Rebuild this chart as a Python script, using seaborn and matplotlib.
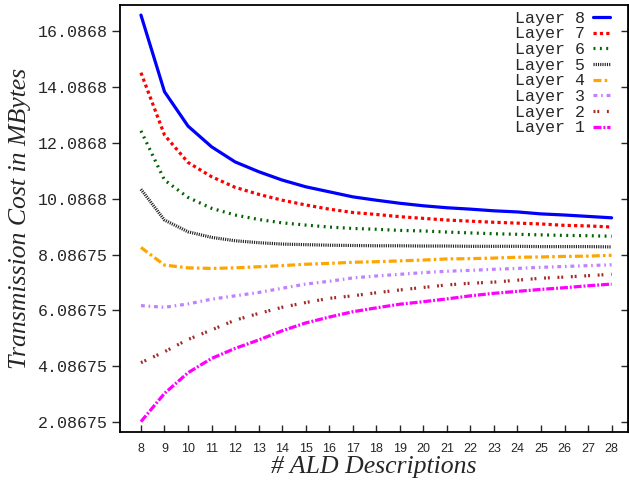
import matplotlib
matplotlib.use("Agg")
import matplotlib.pyplot as plt
import seaborn as sns
import pandas as pd

x_values = list(range(8, 29))
layer8 = [16.65, 13.91, 12.68, 11.94, 11.40, 11.05, 10.75, 10.51, 10.33, 10.15, 10.03,
          9.92, 9.83, 9.76, 9.71, 9.65, 9.61, 9.54, 9.50, 9.45, 9.40]
layer7 = [14.59, 12.36, 11.38, 10.87, 10.49, 10.24, 10.03, 9.86, 9.71, 9.59, 9.52,
          9.44, 9.38, 9.32, 9.28, 9.24, 9.21, 9.18, 9.13, 9.11, 9.07]
layer6 = [12.51, 10.75, 10.13, 9.74, 9.50, 9.34, 9.22, 9.14, 9.07, 9.02, 8.99,
          8.95, 8.93, 8.89, 8.86, 8.83, 8.81, 8.79, 8.77, 8.76, 8.74]
layer5 = [10.42, 9.32, 8.90, 8.70, 8.58, 8.51, 8.46, 8.44, 8.42, 8.41, 8.40,
          8.40, 8.39, 8.39, 8.38, 8.38, 8.38, 8.37, 8.37, 8.37, 8.36]
layer4 = [8.34, 7.71, 7.61, 7.59, 7.61, 7.65, 7.69, 7.74, 7.77, 7.81, 7.83,
          7.86, 7.89, 7.93, 7.94, 7.96, 7.99, 8.00, 8.02, 8.03, 8.06]
layer3 = [6.26, 6.20, 6.32, 6.49, 6.61, 6.73, 6.88, 7.03, 7.13, 7.25, 7.32,
          7.38, 7.44, 7.49, 7.52, 7.56, 7.59, 7.63, 7.66, 7.69, 7.72]
layer2 = [4.22, 4.61, 5.05, 5.39, 5.74, 5.98, 6.20, 6.37, 6.52, 6.61, 6.72,
          6.82, 6.91, 7.00, 7.06, 7.10, 7.17, 7.24, 7.28, 7.33, 7.38]
layer1 = [2.11, 3.12, 3.86, 4.37, 4.73, 5.03, 5.36, 5.64, 5.85, 6.04, 6.18,
          6.31, 6.40, 6.50, 6.61, 6.70, 6.77, 6.84, 6.90, 6.97, 7.03]

series_names = ["Layer 8", "Layer 7", "Layer 6", "Layer 5",
                "Layer 4", "Layer 3", "Layer 2", "Layer 1"]
series_values = [layer8, layer7, layer6, layer5, layer4, layer3, layer2, layer1]

y_tick_values = [2.08675, 4.08675, 6.08675, 8.08675, 10.0868, 12.0868, 14.0868, 16.0868]
y_tick_labels = ["2.08675", "4.08675", "6.08675", "8.08675",
                 "10.0868", "12.0868", "14.0868", "16.0868"]

colors = {"Layer 8": "#0000ff", "Layer 7": "#ff0000", "Layer 6": "#006400",
          "Layer 5": "#202020", "Layer 4": "#ffa500", "Layer 3": "#c080ff",
          "Layer 2": "#a52a2a", "Layer 1": "#ff00ff"}
dashes = {"Layer 8": "", "Layer 7": (1, 1), "Layer 6": (0.6, 1.4),
          "Layer 5": (0.35, 0.35), "Layer 4": (2.5, 1, 0.8, 1),
          "Layer 3": (1.2, 1.2, 0.5, 1.2), "Layer 2": (0.6, 0.6, 0.6, 2.4),
          "Layer 1": (2.5, 0.6, 0.6, 0.6)}

rows = []
for name, vals in zip(series_names, series_values):
    for xv, yv in zip(x_values, vals):
        rows.append({"x": xv, "y": yv, "layer": name})
df = pd.DataFrame(rows)

sns.set_style("ticks")
fig = plt.figure(figsize=(6.29, 4.83), dpi=100)
ax = fig.add_axes([0.1908, 0.1056, 0.807, 0.884])

sns.lineplot(data=df, x="x", y="y", hue="layer", style="layer",
             hue_order=series_names, style_order=series_names,
             palette=colors, dashes=dashes, linewidth=2.3, ax=ax, legend=True)

ax.set_xlim(7.11, 28.68)
ax.set_ylim(1.74, 17.01)
ax.set_xticks(x_values)
ax.set_xticklabels([str(v) for v in x_values], family="Liberation Sans", fontsize=9)
ax.set_yticks(y_tick_values)
ax.set_yticklabels(y_tick_labels, family="Liberation Mono", fontsize=12)
ax.tick_params(axis="x", direction="in", length=5, width=1, pad=8)
ax.tick_params(axis="y", direction="out", length=6, width=1, pad=3)

sec = ax.secondary_yaxis("right")
sec.set_yticks(y_tick_values)
sec.set_yticklabels([])
sec.tick_params(direction="in", length=5, width=1)

for s in ax.spines.values():
    s.set_linewidth(1.3)
    s.set_color("black")

ax.set_xlabel("# ALD Descriptions", family="Liberation Serif", style="italic",
              fontsize=18.5, labelpad=1)
ax.set_ylabel("Transmission Cost in MBytes", family="Liberation Serif",
              style="italic", fontsize=18.5, labelpad=5)

handles, labels = ax.get_legend_handles_labels()
leg = ax.legend(handles, labels, loc="upper right", frameon=False,
                markerfirst=False, prop={"family": "Liberation Mono", "size": 12},
                handlelength=1.0, handletextpad=0.5, labelspacing=0.04,
                borderaxespad=0.2, bbox_to_anchor=(0.985, 1.01))

fig.savefig("out.png", dpi=100)
